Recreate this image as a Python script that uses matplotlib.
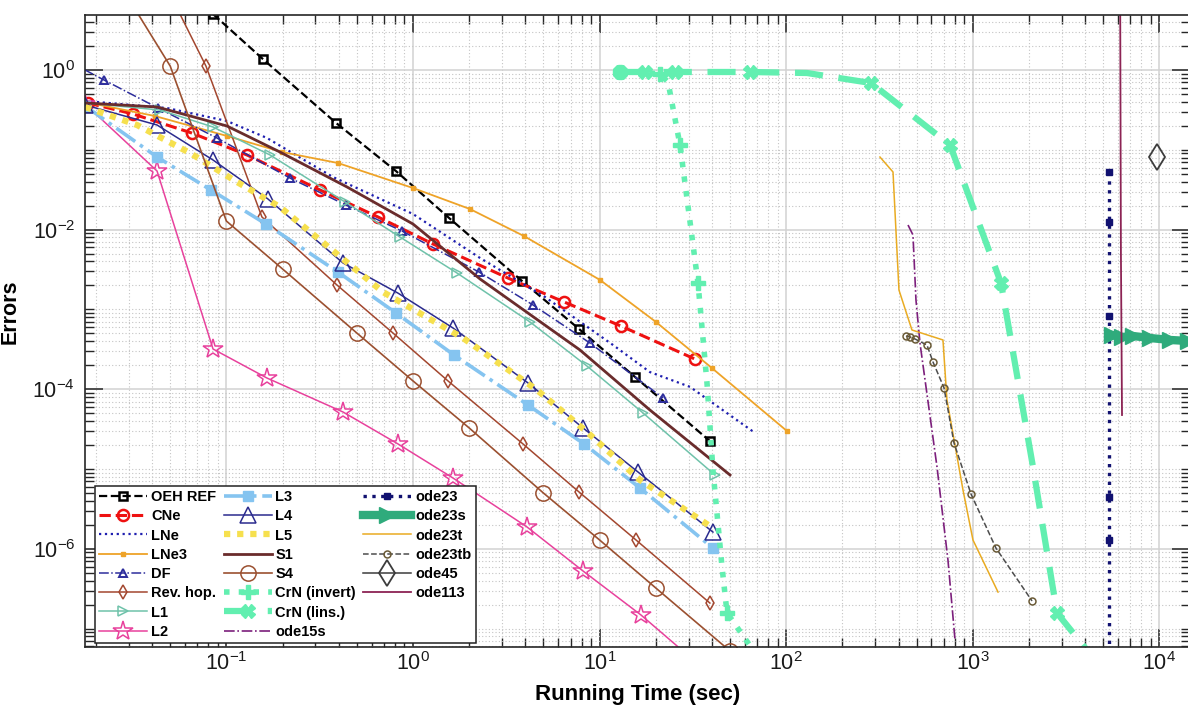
import matplotlib
matplotlib.use("Agg")
import matplotlib.pyplot as plt
from matplotlib.ticker import FixedLocator, FuncFormatter, NullFormatter
from matplotlib.lines import Line2D
import numpy as np

plt.rcParams['font.family'] = ['Liberation Sans', 'DejaVu Sans']
plt.rcParams['mathtext.fontset'] = 'custom'
plt.rcParams['mathtext.rm'] = 'Liberation Sans'
plt.rcParams['mathtext.bf'] = 'Liberation Sans:bold'

# ---- series data: running time (s) and error ----
oeh_ref_t = [0.085, 0.157, 0.387, 0.81, 1.56, 3.84, 7.76, 15.5, 39.0]
oeh_ref_err = [5.0, 1.37, 0.217, 0.0542, 0.014, 0.00227, 5.68e-4, 1.42e-4, 2.24e-5]

cne_t = [0.0181, 0.0316, 0.0654, 0.129, 0.318, 0.649, 1.28, 3.23, 6.45, 13.0, 32.4]
cne_err = [0.386, 0.281, 0.162, 0.0861, 0.0313, 0.0144, 0.0066, 0.00247, 0.00124, 6.19e-4, 2.39e-4]

lne_t = [0.0175, 0.048, 0.1007, 0.165, 0.3725, 1.0, 2.29, 5.1, 11.8, 18.6, 30.5, 68.1]
lne_err = [0.409, 0.334, 0.2296, 0.1406, 0.0456, 0.01568, 0.0044, 0.00143, 3.58e-4, 1.64e-4, 1.07e-4, 2.83e-5]

lne3_t = [0.0175, 0.0414, 0.1007, 0.1986, 0.396, 1.0, 2.02, 3.93, 10.05, 20.06, 40.0, 101.0]
lne3_err = [0.397, 0.265, 0.149, 0.0938, 0.0683, 0.0332, 0.0181, 0.00831, 0.00234, 6.95e-4, 1.84e-4, 2.99e-5]

df_t = [0.0145, 0.0221, 0.043, 0.089, 0.219, 0.4375, 0.873, 2.258, 4.4, 8.88, 21.9]
df_err = [1.26, 0.749, 0.334, 0.1406, 0.0443, 0.0203, 0.0096, 0.00294, 0.001135, 3.79e-4, 7.76e-5]

revhop_t = [0.0498, 0.0777, 0.155, 0.3915, 0.781, 1.54, 3.886, 7.76, 15.67, 39.0]
revhop_err = [8.96, 1.12, 0.0144, 0.00202, 5.06e-4, 1.27e-4, 2.06e-5, 5.15e-6, 1.29e-6, 2.09e-7]

l1_t = [0.0175, 0.0441, 0.0848, 0.1713, 0.432, 0.852, 1.72, 4.24, 8.56, 17.1, 41.5]
l1_err = [0.386, 0.315, 0.193, 0.0861, 0.0222, 0.00808, 0.00286, 6.95e-4, 1.95e-4, 5.03e-5, 8.41e-6]

l2_t = [0.0175, 0.0425, 0.0848, 0.165, 0.4216, 0.831, 1.638, 4.08, 8.15, 16.67, 40.0]
l2_err = [0.375, 0.0542, 3.19e-4, 1.38e-4, 5.18e-5, 2.06e-5, 7.71e-6, 1.88e-6, 5.27e-7, 1.48e-7, 2.55e-8]

l3_t = [0.0175, 0.0425, 0.0827, 0.163, 0.396, 0.811, 1.659, 4.13, 8.25, 16.46, 40.5]
l3_err = [0.354, 0.0812, 0.0313, 0.01175, 0.00294, 9.01e-4, 2.68e-4, 6.34e-5, 2.06e-5, 5.78e-6, 1.02e-6]

l4_t = [0.0175, 0.0425, 0.0848, 0.167, 0.4216, 0.831, 1.638, 4.13, 8.15, 16.06, 40.5]
l4_err = [0.364, 0.2045, 0.0745, 0.0242, 0.00382, 0.0016, 5.85e-4, 1.2e-4, 3.27e-5, 9.17e-6, 1.62e-6]

l5_t = [0.0175, 0.0332, 0.0638, 0.114, 0.1937, 0.3175, 0.6906, 1.853, 4.62, 8.56, 16.46, 40.5]
l5_err = [0.344, 0.2045, 0.0912, 0.0395, 0.0192, 0.0074, 0.00165, 4.38e-4, 9.77e-5, 2.91e-5, 7.28e-6, 1.82e-6]

s1_t = [0.0175, 0.0425, 0.1007, 0.1937, 0.443, 1.0, 2.29, 7.85, 18.6, 50.0]
s1_err = [0.386, 0.344, 0.1987, 0.0938, 0.0342, 0.01175, 0.0024, 3.1e-4, 5.49e-5, 8.41e-6]

s4_t = [0.03, 0.05, 0.1, 0.2, 0.5, 1.0, 2.0, 5.0, 10.0, 20.0, 50.0]
s4_err = [7.76, 1.12, 0.0128, 0.00321, 5.06e-4, 1.27e-4, 3.27e-5, 5.0e-6, 1.29e-6, 3.23e-7, 5.24e-8]

crn_inv_t = [12.86, 16.46, 21.07, 23.26, 26.97, 33.68, 37.63, 40.5, 45.3, 48.2, 72.4]
crn_inv_err = [0.944, 0.944, 0.891, 0.707, 0.115, 0.00214, 1.2e-4, 9.71e-6, 5.92e-7, 1.57e-7, 4.04e-8]

crn_lin_t = [12.86, 17.51, 25.36, 63.97, 129.3, 284.7, 754.8, 1416.0, 2102.0, 2826.0, 4517.0]
crn_lin_err = [0.944, 0.944, 0.944, 0.944, 0.917, 0.687, 0.115, 0.00214, 1.06e-5, 1.57e-7, 4.04e-8]

ode15s_t = [449.6, 478.0, 496.0, 521.0, 643.0, 736.0, 803.0]
ode15s_err = [0.01142, 0.00856, 0.00131, 3.79e-4, 1.06e-5, 7.24e-7, 7.2e-8]

ode23_t = [5370.0, 5370.0, 5370.0, 5370.0, 5370.0, 5370.0]
ode23_err = [0.0527, 0.01245, 8.27e-4, 4.46e-6, 1.29e-6, 1.0e-8]

ode23s_t = [5572.0, 6304.0, 7220.0, 8906.0, 11400.0, 14230.0, 17550.0]
ode23s_err = [4.78e-4, 4.51e-4, 4.64e-4, 4.38e-4, 4.14e-4, 4.02e-4, 3.91e-4]

ode23t_t = [318.0, 373.6, 402.0, 472.0, 692.0, 727.0, 886.0, 1002.0, 1365.0]
ode23t_err = [0.0812, 0.0527, 0.00175, 5.52e-4, 4.14e-4, 7.33e-5, 5.46e-6, 1.29e-6, 2.87e-7]

ode23tb_t = [438.5, 460.7, 490.0, 568.0, 612.0, 701.0, 793.0, 978.0, 1331.0, 2077.0]
ode23tb_err = [4.64e-4, 4.51e-4, 4.26e-4, 3.58e-4, 2.19e-4, 1.04e-4, 2.12e-5, 4.86e-6, 1.02e-6, 2.22e-7]

ode45_t = [9710.0]
ode45_err = [0.0812]

ode113_t = [6150.0, 6220.0, 6304.0]
ode113_err = [50.0, 0.005, 4.75e-5]

x_ticks = [1e-1, 1e0, 1e1, 1e2, 1e3, 1e4]
y_ticks = [1e-6, 1e-4, 1e-2, 1e0]

# ---- figure ----
fig = plt.figure(figsize=(11.88, 7.18), dpi=100)
ax = fig.add_axes([85 / 1188, (718 - 647) / 718, (1190 - 85) / 1188, 632 / 718])
ax.set_xscale('log')
ax.set_yscale('log')

mint = '#62efb0'

ax.plot(oeh_ref_t, oeh_ref_err, '--', color='black', lw=1.6, marker='s', ms=6,
        mfc='none', mec='black', mew=1.8, label='OEH REF')
ax.plot(cne_t, cne_err, '--', color='#ee1111', lw=2.2, marker='o', ms=8,
        mfc='none', mec='#ee1111', mew=1.8, label='CNe')
ax.plot(lne_t, lne_err, ':', color='#1f1fb0', lw=1.6, label='LNe')
ax.plot(lne3_t, lne3_err, '-', color='#eea328', lw=1.3, marker='s', ms=3.5,
        mfc='#eea328', mec='#eea328', label='LNe3')
ax.plot(df_t, df_err, '-.', color='#2d2d9c', lw=1.1, marker='^', ms=6,
        mfc='none', mec='#2d2d9c', mew=1.4, label='DF')
ax.plot(revhop_t, revhop_err, '-', color='#a3472f', lw=1.1, marker='d', ms=7,
        mfc='none', mec='#a3472f', mew=1.1, label='Rev. hop.')
ax.plot(l1_t, l1_err, '-', color='#6fc2aa', lw=1.1, marker='>', ms=7,
        mfc='none', mec='#6fc2aa', mew=1.1, label='L1')
ax.plot(l2_t, l2_err, '-', color='#e8419c', lw=1.1, marker='*', ms=15,
        mfc='none', mec='#e8419c', mew=1.1, label='L2')
ax.plot(l3_t, l3_err, '-.', color='#85c4f0', lw=2.6, marker='s', ms=6.5,
        mfc='#85c4f0', mec='#85c4f0', label='L3')
ax.plot(l4_t, l4_err, '-', color='#2b2b8e', lw=1.1, marker='^', ms=12,
        mfc='none', mec='#2b2b8e', mew=1.1, label='L4')
ax.plot(l5_t, l5_err, color='#f6e04e', lw=4.5, dashes=(1.0, 1.1), label='L5')
ax.plot(s1_t, s1_err, '-', color='#6a2c2c', lw=2.0, label='S1')
ax.plot(s4_t, s4_err, '-', color='#9b5030', lw=1.2, marker='o', ms=11,
        mfc='none', mec='#9b5030', mew=1.1, label='S4')
ax.plot(crn_inv_t, crn_inv_err, ':', color=mint, lw=4.0, marker='P', ms=10,
        mfc=mint, mec=mint, markevery=[0, 2, 4, 5, 9], label='CrN (invert)')
ax.plot(crn_lin_t, crn_lin_err, color=mint, lw=4.5, dashes=(4.5, 2.5), marker='X', ms=10,
        mfc=mint, mec=mint, markevery=[0, 1, 2, 3, 5, 6, 7, 9], label='CrN (lins.)')
ax.plot(ode15s_t, ode15s_err, '-.', color='#7c1f7c', lw=1.2, label='ode15s')
ax.plot(ode23_t, ode23_err, ':', color='#111170', lw=2.4, marker='s', ms=4,
        mfc='#111170', mec='#111170', label='ode23')
ax.plot(ode23s_t, ode23s_err, '-', color='#2fab7c', lw=6, marker='>', ms=11,
        mfc='#2fab7c', mec='#2fab7c', label='ode23s')
ax.plot(ode23t_t, ode23t_err, '-', color='#e9ab22', lw=1.1, label='ode23t')
ax.plot(ode23tb_t, ode23tb_err, '--', color='#4d4d4d', lw=1.1, marker='o', ms=5,
        mfc='none', mec='#6a5a36', mew=1.1, label='ode23tb')
ax.plot(ode45_t, ode45_err, '-', color='#3c3c3c', lw=1.1, marker='d', ms=13,
        mfc='none', mec='#3c3c3c', mew=1.3, label='ode45')
ax.plot(ode113_t, ode113_err, '-', color='#8c2354', lw=1.3, label='ode113')

# ---- axes, ticks and grid ----
ax.set_xlim(0.01747, 10 ** ((1190 - 413) / 186.6))
ax.set_ylim(10 ** (-577 / 79.8), 10 ** (55 / 79.8))

x_minor = [k * 10.0 ** e for e in range(-2, 5) for k in range(2, 10)]
y_minor = [k * 10.0 ** e for e in range(-8, 1) for k in range(1, 10)
           if not (k == 1 and e % 2 == 0)]

ax.xaxis.set_major_locator(FixedLocator(x_ticks))
ax.xaxis.set_minor_locator(FixedLocator(x_minor))
ax.yaxis.set_major_locator(FixedLocator(y_ticks))
ax.yaxis.set_minor_locator(FixedLocator(y_minor))

pow_fmt = FuncFormatter(lambda v, p: r'$10^{%d}$' % int(round(np.log10(v))))
ax.xaxis.set_major_formatter(pow_fmt)
ax.yaxis.set_major_formatter(pow_fmt)
ax.xaxis.set_minor_formatter(NullFormatter())
ax.yaxis.set_minor_formatter(NullFormatter())

ax.tick_params(which='both', direction='in', top=True, right=True, colors='#262626',
               labelcolor='#1a1a1a', labelsize=15.5)
ax.tick_params(which='major', length=13, width=1.1)
ax.tick_params(axis='x', which='major', pad=4)
ax.tick_params(axis='y', which='major', pad=7)
ax.tick_params(which='minor', length=6.5, width=1.0)

ax.grid(which='major', color='#d2d2d2', lw=1.1, ls='-')
ax.grid(which='minor', color='#c4c4c4', lw=0.8, ls=(0, (1, 2)))
ax.set_axisbelow(True)
for sp in ax.spines.values():
    sp.set_linewidth(1.2)
    sp.set_color('#262626')

ax.set_xlabel('Running Time (sec)', fontsize=16, fontweight='bold', labelpad=6)
ax.set_ylabel('Errors', fontsize=15.5, fontweight='bold')
ax.yaxis.set_label_coords(-0.058, 0.53)

# ---- legend: three columns, 8/8/6 rows ----
handles, labels = ax.get_legend_handles_labels()
for _ in range(2):
    handles.append(Line2D([], [], color='none'))
    labels.append(' ')
leg = ax.legend(handles, labels, ncol=3, loc='lower left',
                bbox_to_anchor=(0.009, 0.006), borderaxespad=0,
                prop={'weight': 'bold', 'size': 10.5}, handlelength=3.3,
                handletextpad=0.25, columnspacing=0.5, labelspacing=0.36,
                borderpad=0.3, fancybox=False, framealpha=1, edgecolor='#222222')
leg.get_frame().set_linewidth(1.1)

fig.savefig('out.png', dpi=100)
